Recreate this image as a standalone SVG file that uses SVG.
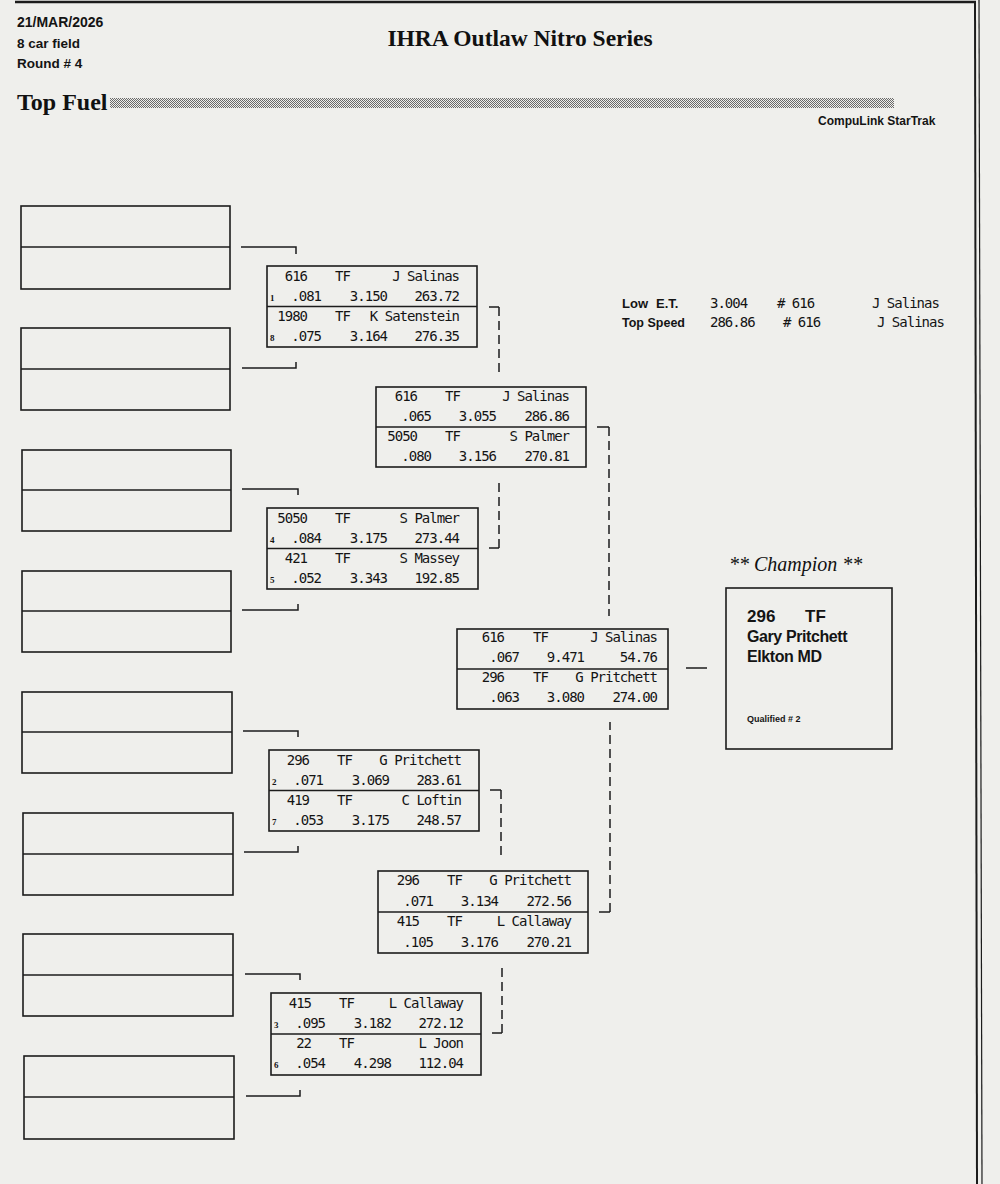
<svg xmlns="http://www.w3.org/2000/svg" width="1000" height="1184" viewBox="0 0 1000 1184">
<defs>
<pattern id="dots" x="0" y="0" width="2" height="2" patternUnits="userSpaceOnUse">
<rect x="0" y="0" width="1" height="1" fill="#6a6a6a"/>
<rect x="1" y="1" width="1" height="1" fill="#6a6a6a"/>
</pattern>
</defs>
<style>
.box{fill:none;stroke:#1c1c1c;stroke-width:1.6}
.t{font-family:"DejaVu Sans Mono","Liberation Mono",monospace;font-size:14px;letter-spacing:-1px;fill:#141414}
.e{text-anchor:end}
.seed{font-family:"Liberation Serif",serif;font-size:9px;font-weight:bold;fill:#141414}
.hd{font-family:"Liberation Sans",Arial,sans-serif;font-weight:bold;fill:#141414}
.sr{font-family:"Liberation Serif","Times New Roman",serif;font-weight:bold;fill:#111}
.conn{stroke:#1c1c1c;stroke-width:1.5;fill:none}
.dash{stroke-dasharray:9 5}
</style>
<rect x="0" y="0" width="1000" height="1184" fill="#efefec"/>
<g id="frame">
<line x1="15" y1="2" x2="976" y2="2" stroke="#1c1c1c" stroke-width="2.5"/>
<line x1="975" y1="2" x2="977" y2="1184" stroke="#1c1c1c" stroke-width="2"/>
<line x1="979" y1="0" x2="982" y2="1184" stroke="#1c1c1c" stroke-width="1.2"/>
</g>
<g id="header">
<text class="hd" x="17" y="27" font-size="14">21/MAR/2026</text>
<text class="hd" x="17" y="48" font-size="13.5">8 car field</text>
<text class="hd" x="17" y="68" font-size="13.5">Round # 4</text>
<text class="sr" x="520" y="46" font-size="23.5" text-anchor="middle">IHRA Outlaw Nitro Series</text>
<text class="sr" x="17" y="110" font-size="24">Top Fuel</text>
<rect x="110" y="98" width="784" height="10" fill="url(#dots)"/>
<text class="hd" x="818" y="125" font-size="12">CompuLink StarTrak</text>
</g>
<g id="records">
<text class="hd" x="622" y="308" font-size="13">Low</text>
<text class="hd" x="656" y="308" font-size="13">E.T.</text>
<text class="t" x="710" y="308">3.004</text>
<text class="t" x="777" y="308"># 616</text>
<text class="t" x="872" y="308">J Salinas</text>
<text class="hd" x="622" y="327" font-size="12.5">Top Speed</text>
<text class="t" x="710" y="327">286.86</text>
<text class="t" x="783" y="327"># 616</text>
<text class="t" x="877" y="327">J Salinas</text>
</g>
<g id="slot1"><rect class="box" x="21" y="206" width="209" height="83"/><line class="box" x1="21" y1="247" x2="230" y2="247"/></g>
<g id="slot2"><rect class="box" x="21" y="328" width="209" height="82"/><line class="box" x1="21" y1="369" x2="230" y2="369"/></g>
<g id="slot3"><rect class="box" x="22" y="450" width="209" height="81"/><line class="box" x1="22" y1="490" x2="231" y2="490"/></g>
<g id="slot4"><rect class="box" x="22" y="571" width="209" height="81"/><line class="box" x1="22" y1="611" x2="231" y2="611"/></g>
<g id="slot5"><rect class="box" x="22" y="692" width="210" height="81"/><line class="box" x1="22" y1="732" x2="232" y2="732"/></g>
<g id="slot6"><rect class="box" x="23" y="813" width="210" height="82"/><line class="box" x1="23" y1="854" x2="233" y2="854"/></g>
<g id="slot7"><rect class="box" x="23" y="934" width="210" height="82"/><line class="box" x1="23" y1="975" x2="233" y2="975"/></g>
<g id="slot8"><rect class="box" x="24" y="1056" width="210" height="83"/><line class="box" x1="24" y1="1097" x2="234" y2="1097"/></g>
<g id="connectors">
<polyline class="conn" points="241,247 296,247 296,254"/>
<polyline class="conn" points="242,368 296,368 296,362"/>
<polyline class="conn" points="242,489 298,489 298,495"/>
<polyline class="conn" points="242,610 298,610 298,604"/>
<polyline class="conn" points="243,731 298,731 298,737"/>
<polyline class="conn" points="244,852 298,852 298,846"/>
<polyline class="conn" points="245,974 300,974 300,980"/>
<polyline class="conn" points="246,1096 300,1096 300,1090"/>
<line class="conn" x1="489" y1="307" x2="499" y2="307"/>
<line class="conn dash" x1="499" y1="307" x2="499" y2="375"/>
<line class="conn dash" x1="499" y1="548" x2="499" y2="480"/>
<line class="conn" x1="489" y1="548" x2="499" y2="548"/>
<line class="conn" x1="490" y1="790" x2="501" y2="790"/>
<line class="conn dash" x1="501" y1="790" x2="501" y2="858"/>
<line class="conn dash" x1="502" y1="1033" x2="502" y2="967"/>
<line class="conn" x1="492" y1="1033" x2="502" y2="1033"/>
<line class="conn" x1="597" y1="427" x2="609" y2="427"/>
<line class="conn dash" x1="609" y1="427" x2="609" y2="616"/>
<line class="conn dash" x1="610" y1="912" x2="610" y2="722"/>
<line class="conn" x1="599" y1="912" x2="610" y2="912"/>
<line class="conn" x1="686" y1="668" x2="707" y2="668"/>
</g>
<g id="r1m1" transform="translate(267,266)">
<rect class="box" x="0" y="0" width="210" height="81"/><line class="box" x1="0" y1="40.5" x2="210" y2="40.5"/>
<text class="t e" x="40" y="15">616</text><text class="t" x="68" y="15">TF</text><text class="t e" x="192" y="15">J Salinas</text>
<text class="seed" x="3" y="35">1</text><text class="t e" x="54" y="35">.081</text><text class="t e" x="120" y="35">3.150</text><text class="t e" x="192" y="35">263.72</text>
<text class="t e" x="40" y="55">1980</text><text class="t" x="68" y="55">TF</text><text class="t e" x="192" y="55">K Satenstein</text>
<text class="seed" x="3" y="75">8</text><text class="t e" x="54" y="75">.075</text><text class="t e" x="120" y="75">3.164</text><text class="t e" x="192" y="75">276.35</text>
</g>
<g id="r1m2" transform="translate(267,508)">
<rect class="box" x="0" y="0" width="211" height="81"/><line class="box" x1="0" y1="40.5" x2="211" y2="40.5"/>
<text class="t e" x="40" y="15">5050</text><text class="t" x="68" y="15">TF</text><text class="t e" x="192" y="15">S Palmer</text>
<text class="seed" x="3" y="35">4</text><text class="t e" x="54" y="35">.084</text><text class="t e" x="120" y="35">3.175</text><text class="t e" x="192" y="35">273.44</text>
<text class="t e" x="40" y="55">421</text><text class="t" x="68" y="55">TF</text><text class="t e" x="192" y="55">S Massey</text>
<text class="seed" x="3" y="75">5</text><text class="t e" x="54" y="75">.052</text><text class="t e" x="120" y="75">3.343</text><text class="t e" x="192" y="75">192.85</text>
</g>
<g id="r1m3" transform="translate(269,750)">
<rect class="box" x="0" y="0" width="210" height="81"/><line class="box" x1="0" y1="40.5" x2="210" y2="40.5"/>
<text class="t e" x="40" y="15">296</text><text class="t" x="68" y="15">TF</text><text class="t e" x="192" y="15">G Pritchett</text>
<text class="seed" x="3" y="35">2</text><text class="t e" x="54" y="35">.071</text><text class="t e" x="120" y="35">3.069</text><text class="t e" x="192" y="35">283.61</text>
<text class="t e" x="40" y="55">419</text><text class="t" x="68" y="55">TF</text><text class="t e" x="192" y="55">C Loftin</text>
<text class="seed" x="3" y="75">7</text><text class="t e" x="54" y="75">.053</text><text class="t e" x="120" y="75">3.175</text><text class="t e" x="192" y="75">248.57</text>
</g>
<g id="r1m4" transform="translate(271,993)">
<rect class="box" x="0" y="0" width="210" height="82"/><line class="box" x1="0" y1="41" x2="210" y2="41"/>
<text class="t e" x="40" y="15">415</text><text class="t" x="68" y="15">TF</text><text class="t e" x="192" y="15">L Callaway</text>
<text class="seed" x="3" y="35">3</text><text class="t e" x="54" y="35">.095</text><text class="t e" x="120" y="35">3.182</text><text class="t e" x="192" y="35">272.12</text>
<text class="t e" x="40" y="55">22</text><text class="t" x="68" y="55">TF</text><text class="t e" x="192" y="55">L Joon</text>
<text class="seed" x="3" y="75">6</text><text class="t e" x="54" y="75">.054</text><text class="t e" x="120" y="75">4.298</text><text class="t e" x="192" y="75">112.04</text>
</g>
<g id="r2m1" transform="translate(376,387)">
<rect class="box" x="0" y="0" width="210" height="80"/><line class="box" x1="0" y1="40" x2="210" y2="40"/>
<text class="t e" x="41" y="14">616</text><text class="t" x="69" y="14">TF</text><text class="t e" x="193" y="14">J Salinas</text>
<text class="t e" x="55" y="34">.065</text><text class="t e" x="120" y="34">3.055</text><text class="t e" x="193" y="34">286.86</text>
<text class="t e" x="41" y="54">5050</text><text class="t" x="69" y="54">TF</text><text class="t e" x="193" y="54">S Palmer</text>
<text class="t e" x="55" y="74">.080</text><text class="t e" x="120" y="74">3.156</text><text class="t e" x="193" y="74">270.81</text>
</g>
<g id="r2m2" transform="translate(378,871)">
<rect class="box" x="0" y="0" width="210" height="82"/><line class="box" x1="0" y1="41" x2="210" y2="41"/>
<text class="t e" x="41" y="14">296</text><text class="t" x="69" y="14">TF</text><text class="t e" x="193" y="14">G Pritchett</text>
<text class="t e" x="55" y="35">.071</text><text class="t e" x="120" y="35">3.134</text><text class="t e" x="193" y="35">272.56</text>
<text class="t e" x="41" y="55">415</text><text class="t" x="69" y="55">TF</text><text class="t e" x="193" y="55">L Callaway</text>
<text class="t e" x="55" y="76">.105</text><text class="t e" x="120" y="76">3.176</text><text class="t e" x="193" y="76">270.21</text>
</g>
<g id="final" transform="translate(457,629)">
<rect class="box" x="0" y="0" width="211" height="80"/><line class="box" x1="0" y1="40" x2="211" y2="40"/>
<text class="t e" x="47" y="13">616</text><text class="t" x="76" y="13">TF</text><text class="t e" x="200" y="13">J Salinas</text>
<text class="t e" x="62" y="33">.067</text><text class="t e" x="127" y="33">9.471</text><text class="t e" x="200" y="33">54.76</text>
<text class="t e" x="47" y="53">296</text><text class="t" x="76" y="53">TF</text><text class="t e" x="200" y="53">G Pritchett</text>
<text class="t e" x="62" y="73">.063</text><text class="t e" x="127" y="73">3.080</text><text class="t e" x="200" y="73">274.00</text>
</g>
<g id="champion">
<text x="729" y="571" font-family="'Liberation Serif','Times New Roman',serif" font-style="italic" font-size="20" fill="#111">** Champion **</text>
<rect class="box" x="726" y="588" width="166" height="161"/>
<text class="hd" x="747" y="622" font-size="17">296</text>
<text class="hd" x="805" y="622" font-size="17">TF</text>
<text class="hd" x="747" y="642" font-size="16" letter-spacing="-0.4">Gary Pritchett</text>
<text class="hd" x="747" y="662" font-size="16" letter-spacing="-0.4">Elkton MD</text>
<text class="hd" x="747" y="722" font-size="9">Qualified # 2</text>
</g>
</svg>
